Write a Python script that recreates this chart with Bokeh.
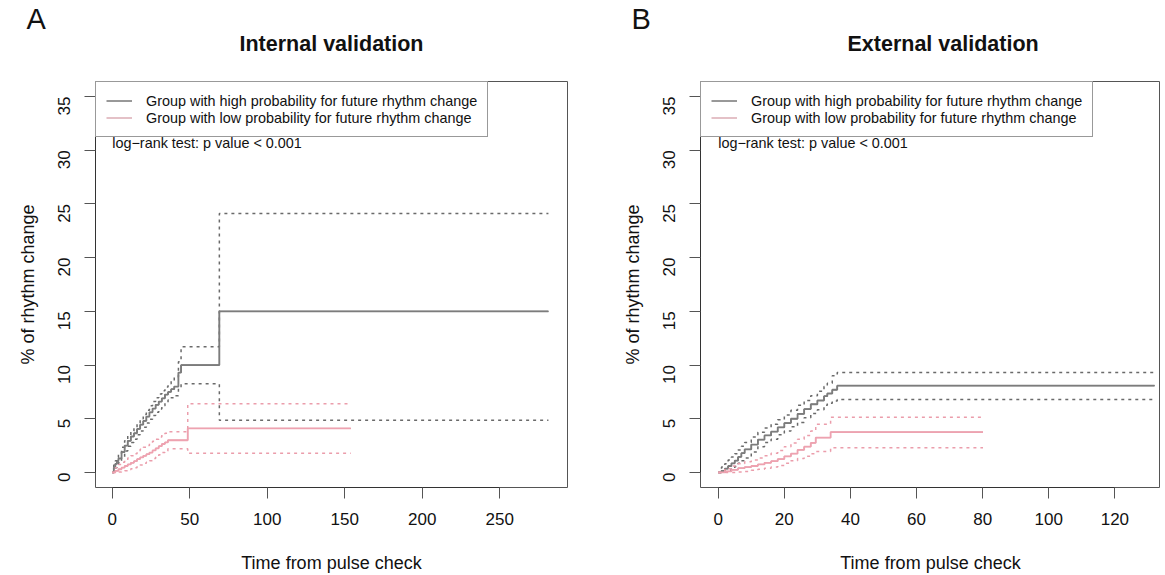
import math
from bokeh.plotting import figure
from bokeh.models import Range1d, FixedTicker, Legend, LegendItem, Label, Title
from bokeh.layouts import row
from bokeh.embed import file_html
from bokeh.resources import INLINE

# ---------------- data ----------------
y_ticks = [0, 5, 10, 15, 20, 25, 30, 35]
int_x_ticks = [0, 50, 100, 150, 200, 250]
ext_x_ticks = [0, 20, 40, 60, 80, 100, 120]

legend_labels = ["Group with high probability for future rhythm change",
                 "Group with low probability for future rhythm change"]
pvalue_text = "log\u2212rank test: p value < 0.001"

# Internal validation, high-probability group
int_hi_t = [0, 1, 2, 3, 4, 6, 8, 10, 12, 14, 16, 18, 20, 22, 24, 26, 28, 30, 32, 34, 36, 38, 40, 42.7, 44.4, 69.1]
int_hi_v = [0, 0.45, 0.8, 1.05, 1.3, 1.9, 2.5, 2.95, 3.35, 3.65, 4.05, 4.45, 4.8, 5.2, 5.6, 5.95, 6.3, 6.6, 6.9, 7.25, 7.5, 7.75, 8.0, 9.3, 10.0, 15.0]
int_hi_up = [0, 0.7, 1.1, 1.4, 1.7, 2.35, 2.95, 3.45, 3.85, 4.2, 4.6, 5.0, 5.4, 5.8, 6.2, 6.6, 6.95, 7.3, 7.6, 7.95, 8.25, 8.55, 8.9, 10.3, 11.7, 24.1]
int_hi_lo = [0, 0.2, 0.45, 0.65, 0.9, 1.45, 2.0, 2.45, 2.8, 3.1, 3.5, 3.85, 4.2, 4.6, 4.95, 5.3, 5.6, 5.9, 6.2, 6.5, 6.75, 6.95, 7.15, 7.9, 8.25, 4.85]
int_hi_end = 281.4

# Internal validation, low-probability group
int_lo_t = [0, 2, 4, 6, 8, 10, 12, 14, 16, 18, 20, 22, 24, 26, 28, 30, 32, 34, 35.9, 48.7]
int_lo_v = [0, 0.15, 0.3, 0.45, 0.6, 0.75, 0.9, 1.05, 1.25, 1.4, 1.55, 1.7, 1.85, 2.05, 2.25, 2.45, 2.65, 2.8, 3.0, 4.1]
int_lo_up = [0, 0.45, 0.75, 0.95, 1.15, 1.35, 1.55, 1.75, 1.95, 2.15, 2.35, 2.5, 2.7, 2.9, 3.1, 3.3, 3.5, 3.65, 3.8, 6.4]
int_lo_lo = [0, 0, 0.05, 0.1, 0.15, 0.25, 0.35, 0.45, 0.6, 0.7, 0.85, 0.95, 1.1, 1.3, 1.45, 1.65, 1.85, 2.0, 2.2, 1.78]
int_lo_end = 153.9

# External validation, high-probability group
ext_hi_t = [0, 1, 2, 3, 4, 5, 6, 7, 8, 10, 12, 14, 16, 18, 20, 22, 24, 26, 28, 30, 32, 33, 34.5, 36]
ext_hi_v = [0, 0.15, 0.35, 0.6, 0.85, 1.1, 1.45, 1.8, 2.15, 2.6, 3.05, 3.45, 3.8, 4.2, 4.6, 5.0, 5.45, 5.9, 6.35, 6.7, 7.1, 7.35, 7.7, 8.08]
ext_hi_up = [0, 0.5, 0.8, 1.15, 1.45, 1.75, 2.1, 2.45, 2.8, 3.3, 3.75, 4.15, 4.5, 4.9, 5.35, 5.8, 6.25, 6.7, 7.15, 7.55, 8.0, 8.3, 9.0, 9.31]
ext_hi_lo = [0, 0, 0.05, 0.2, 0.35, 0.55, 0.85, 1.1, 1.35, 1.9, 2.4, 2.8, 3.1, 3.5, 3.85, 4.25, 4.65, 5.1, 5.5, 5.85, 6.25, 6.45, 6.65, 6.79]
ext_hi_end = 132.0

# External validation, low-probability group
ext_lo_t = [0, 2, 4, 6, 8, 10, 12, 14, 16, 18, 20, 22, 24, 26, 28, 29.5, 34]
ext_lo_v = [0, 0.1, 0.25, 0.4, 0.5, 0.6, 0.75, 0.9, 1.05, 1.25, 1.5, 1.75, 2.1, 2.4, 2.75, 3.24, 3.76]
ext_lo_up = [0, 0.35, 0.6, 0.8, 1.0, 1.15, 1.35, 1.55, 1.8, 2.05, 2.4, 2.75, 3.1, 3.45, 3.85, 4.5, 5.15]
ext_lo_lo = [0, 0, 0, 0.05, 0.1, 0.2, 0.3, 0.4, 0.5, 0.65, 0.85, 1.1, 1.3, 1.5, 1.75, 1.95, 2.31]
ext_lo_end = 80.1

FONT = "Liberation Sans"
HI_SOLID = "#7c7c7c"
HI_DOT = "#6a6a6a"
HI_KEY = "#333333"
LO_SOLID = "#eea2b0"
LO_DOT = "#eb9dab"
LO_KEY = "#c9838f"
H = 575


def add_curve(p, t, v, up, lo, end, solid, dot, key):
    xs = t + [end]
    for series in (up, lo):
        p.step(xs, series + [series[-1]], mode="after", line_color=dot,
               line_width=1.5, line_dash="3 4")
    # thin key line (used by the legend), covered by the wider curve
    key_r = p.step(xs, v + [v[-1]], mode="after", line_color=key, line_width=1)
    p.step(xs, v + [v[-1]], mode="after", line_color=solid, line_width=1.8)
    return key_r


def make_panel(width, bl, br, xr, xticks, title, title_align, title_offset, letter):
    p = figure(width=width, height=H, x_range=Range1d(*xr), y_range=Range1d(-1.4, 36.4),
               output_backend="svg", toolbar_location=None,
               min_border_left=bl, min_border_right=br, min_border_top=81, min_border_bottom=87)
    p.xgrid.visible = False
    p.ygrid.visible = False
    p.outline_line_color = "#555555"
    p.outline_line_width = 1

    # stacked titles, from the frame outwards: spacer, main title, panel letter
    p.add_layout(Title(text=" ", text_font_size="1px", standoff=23), "above")
    p.add_layout(Title(text=title, align=title_align, offset=title_offset, standoff=0,
                       text_font=FONT, text_font_size="21.5px", text_font_style="bold",
                       text_color="#111111"), "above")
    p.add_layout(Title(text=letter, align="left", offset=-69, standoff=-11,
                       text_font=FONT, text_font_size="29px", text_font_style="normal",
                       text_color="#111111"), "above")

    for ax in (p.xaxis[0], p.yaxis[0]):
        ax.major_tick_in = 0
        ax.major_tick_out = 11
        ax.minor_tick_line_color = None
        ax.axis_line_color = "#333333"
        ax.major_tick_line_color = "#555555"
        ax.major_label_text_font = FONT
        ax.major_label_text_font_size = "17px"
        ax.major_label_text_color = "#111111"
        ax.axis_label_text_font = FONT
        ax.axis_label_text_font_size = "18px"
        ax.axis_label_text_font_style = "normal"
        ax.axis_label_text_color = "#111111"

    p.xaxis.ticker = FixedTicker(ticks=xticks)
    p.xaxis.bounds = (xticks[0], xticks[-1])
    p.xaxis.axis_label = "Time from pulse check"
    p.xaxis.major_label_standoff = 14
    p.xaxis.axis_label_standoff = 25

    p.yaxis.ticker = FixedTicker(ticks=y_ticks)
    p.yaxis.bounds = (y_ticks[0], y_ticks[-1])
    p.yaxis.major_label_orientation = math.pi / 2
    p.yaxis.axis_label = "% of rhythm change"
    p.yaxis.major_label_standoff = 20
    p.yaxis.axis_label_standoff = 12

    p.add_layout(Label(x=0, y=30.64, text=pvalue_text, text_font=FONT,
                       text_font_size="14.4px", text_baseline="middle",
                       text_align="left", text_color="#111111"))
    return p


def add_legend(p, r_hi, r_lo):
    legend = Legend(items=[LegendItem(label=legend_labels[0], renderers=[r_hi]),
                           LegendItem(label=legend_labels[1], renderers=[r_lo])],
                    location="top_left", margin=0, padding=10, spacing=0,
                    glyph_width=26, glyph_height=17, label_height=17, label_standoff=14,
                    label_text_font=FONT, label_text_font_size="14.4px",
                    label_text_color="#111111",
                    border_line_color="#333333", border_line_width=1,
                    background_fill_color="white", background_fill_alpha=1)
    p.add_layout(legend)


p1 = make_panel(608, 95, 41, (-10.8, 293.7), int_x_ticks, "Internal validation", "center", 0, "A")
k1 = add_curve(p1, int_hi_t, int_hi_v, int_hi_up, int_hi_lo, int_hi_end, HI_SOLID, HI_DOT, HI_KEY)
k2 = add_curve(p1, int_lo_t, int_lo_v, int_lo_up, int_lo_lo, int_lo_end, LO_SOLID, LO_DOT, LO_KEY)
add_legend(p1, k1, k2)

p2 = make_panel(552, 92, 0, (-5.36, 133.8), ext_x_ticks, "External validation", "left", 147, "B")
k3 = add_curve(p2, ext_hi_t, ext_hi_v, ext_hi_up, ext_hi_lo, ext_hi_end, HI_SOLID, HI_DOT, HI_KEY)
k4 = add_curve(p2, ext_lo_t, ext_lo_v, ext_lo_up, ext_lo_lo, ext_lo_end, LO_SOLID, LO_DOT, LO_KEY)
add_legend(p2, k3, k4)

layout = row(p1, p2)
open("out.html", "w").write(file_html(layout, INLINE))
